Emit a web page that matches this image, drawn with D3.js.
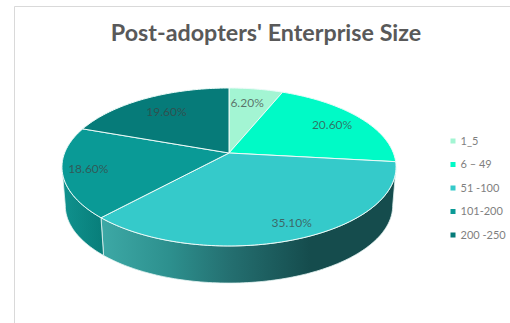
<!DOCTYPE html>
<html>
<head>
<meta charset="utf-8">
<script src="https://cdn.jsdelivr.net/npm/d3@7"></script>
<style>
  html, body { margin: 0; padding: 0; background: #fff; }
  svg { display: block; font-family: Lato, "Open Sans", sans-serif; }
</style>
</head>
<body>
<svg id="chart" width="510" height="323"></svg>
<script>
const titleText = "Post-adopters' Enterprise Size";
const categories = ["1_5", "6 – 49", "51 -100", "101-200", "200 -250"];
const shares = [6.2, 20.6, 35.1, 18.6, 19.6];
const topColors = ["#a3f5d3", "#00fac6", "#35caca", "#0a9a96", "#067b79"];

const svg = d3.select("#chart");

// Frame lines of the chart area
svg.append("path")
  .attr("d", "M14.5,323V6.5H510")
  .attr("fill", "none").attr("stroke", "#d9d9d9").attr("stroke-width", 1);

svg.append("text")
  .attr("x", 266).attr("y", 41)
  .attr("text-anchor", "middle")
  .attr("font-size", 23.3).attr("font-weight", 700)
  .attr("fill", "#595959")
  .text(titleText);

// Tilted disc: a unit circle seen in perspective, where `tilt` makes the
// near half of the disc look larger than the far half.
const tilt = 0.177;
const xScale = d3.scaleLinear().domain([-1, 1]).range([229 - 164.4, 229 + 164.4]);
const yScale = d3.scaleLinear().domain([-1, 1]).range([153 - 76.5, 153 + 76.5]);
const bottomShrink = 0.98;
const bottomDrop = 39;

function project(angle, radius = 1, floor = false) {
  const u = Math.sin(angle) * radius;
  const v = -Math.cos(angle) * radius;
  const w = 1 - tilt * v;
  const s = floor ? bottomShrink : 1;
  const x = 229 + (xScale(u / w) - 229) * s;
  const y = 153 + (yScale(v / w) - 153) * s + (floor ? bottomDrop : 0);
  return [x, y];
}

const slices = d3.pie().sort(null).value(d => d)(shares);
const rimPoints = (a0, a1, floor) => {
  const n = Math.max(2, Math.ceil(Math.abs(a1 - a0) / 0.02));
  return d3.range(n + 1).map(i => project(a0 + (a1 - a0) * i / n, 1, floor));
};
const line = d3.line();

// Side wall, visible only between the disc's left and right silhouette points
const wallStart = Math.acos(-tilt);
const wallEnd = 2 * Math.PI - wallStart;

const defs = svg.append("defs");
const wallStops = [
  { id: "wall-2", x1: 100, x2: 310, stops: [["0", "#3da9a6"], ["0.33", "#2d908e"], ["0.62", "#246f70"], ["1", "#154c4d"]] },
  { id: "wall-3", x1: 62, x2: 102, stops: [["0", "#10928e"], ["1", "#087e7a"]] }
];
wallStops.forEach(g => {
  const grad = defs.append("linearGradient")
    .attr("id", g.id)
    .attr("gradientUnits", "userSpaceOnUse")
    .attr("x1", g.x1).attr("x2", g.x2).attr("y1", 0).attr("y2", 0);
  g.stops.forEach(s => grad.append("stop").attr("offset", s[0]).attr("stop-color", s[1]));
});

slices.forEach((d, i) => {
  const a0 = Math.max(d.startAngle, wallStart);
  const a1 = Math.min(d.endAngle, wallEnd);
  if (a1 <= a0) return;
  const pts = rimPoints(a0, a1, false).concat(rimPoints(a1, a0, true));
  svg.append("path")
    .attr("d", line(pts) + "Z")
    .attr("fill", `url(#wall-${i})`)
    .attr("stroke", "#e4f4f3")
    .attr("stroke-width", 0.8)
    .attr("stroke-linejoin", "round");
});

// Top face of the disc
const apex = project(0, 0);
svg.append("g").selectAll("path")
  .data(slices)
  .join("path")
  .attr("d", d => line([apex, ...rimPoints(d.startAngle, d.endAngle, false)]) + "Z")
  .attr("fill", (d, i) => topColors[i])
  .attr("stroke", "#ecfbf8")
  .attr("stroke-width", 1)
  .attr("stroke-linejoin", "round");

// Value labels sit near each slice's middle angle, nudged off the slice edges
const labelReach = [0.75, 0.78, 0.85, 0.85, 0.73];
const labelTurn = [-1.6, 0, -2.2, 0, 0].map(deg => deg * Math.PI / 180);
svg.append("g").selectAll("text")
  .data(slices)
  .join("text")
  .attr("transform", (d, i) => {
    const p = project((d.startAngle + d.endAngle) / 2 + labelTurn[i], labelReach[i]);
    return `translate(${p[0]},${p[1]})`;
  })
  .attr("dy", "0.35em")
  .attr("text-anchor", "middle")
  .attr("font-size", 12)
  .attr("fill", "#404040")
  .attr("fill-opacity", 0.72)
  .text(d => d.data.toFixed(2) + "%");

// Legend
const legendY = d3.scalePoint().domain(categories).range([141, 235]);
const legend = svg.append("g").selectAll("g")
  .data(categories)
  .join("g")
  .attr("transform", d => `translate(453,${legendY(d)})`);
legend.append("rect")
  .attr("x", -2.5).attr("y", -2.5).attr("width", 5).attr("height", 5)
  .attr("fill", (d, i) => topColors[i]);
legend.append("text")
  .attr("x", 7.5).attr("dy", "0.35em")
  .attr("font-size", 11)
  .attr("fill", "#7f7f7f")
  .text(d => d);
</script>
</body>
</html>
